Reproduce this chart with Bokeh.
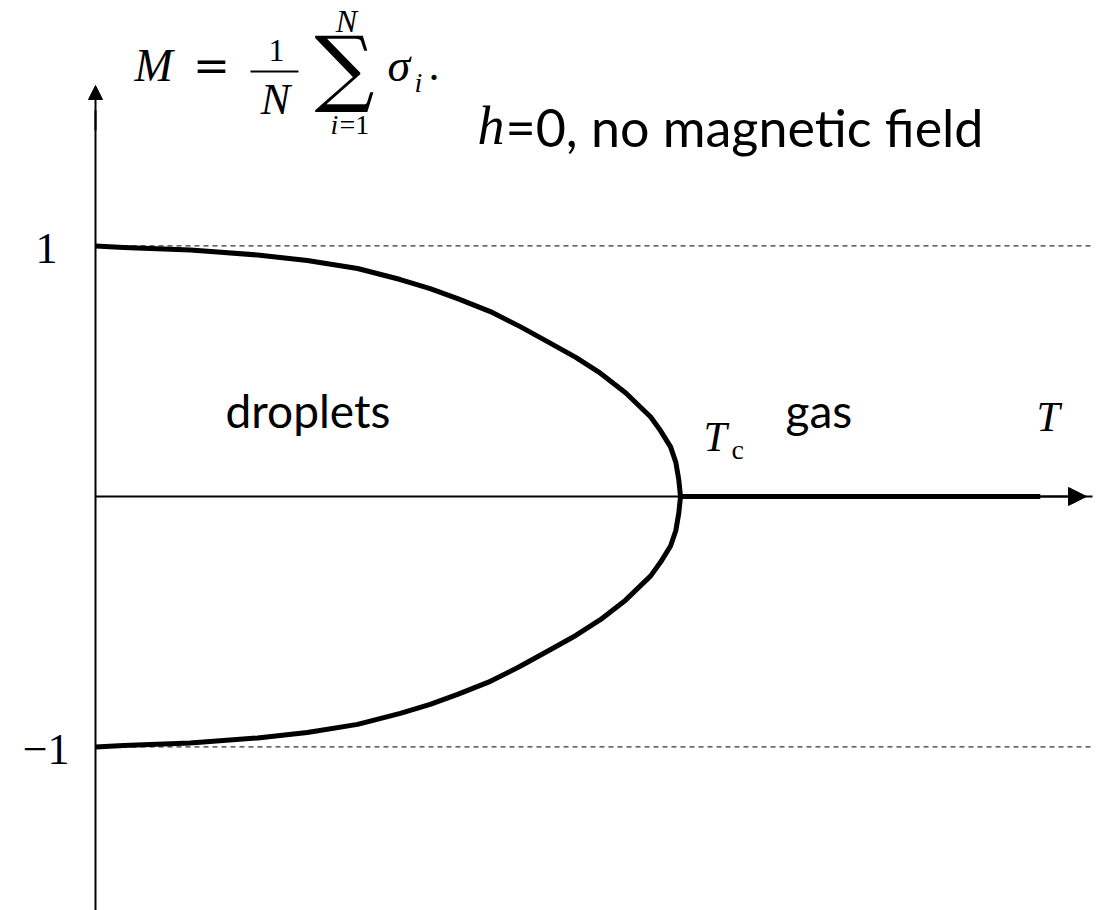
from bokeh.plotting import figure
from bokeh.models import Range1d, Arrow, NormalHead
from bokeh.core.properties import value
from bokeh.embed import file_html
from bokeh.resources import INLINE

# Magnetisation M(T) of the Ising model at h = 0, T in units of Tc
T_upper = [0.0, 0.048, 0.162, 0.277, 0.362, 0.448, 0.521, 0.572, 0.619, 0.675,
           0.726, 0.778, 0.821, 0.863, 0.906, 0.949, 0.966, 0.983, 0.992,
           0.997, 1.0]
M_upper = [1.0, 0.994, 0.984, 0.964, 0.942, 0.910, 0.866, 0.830, 0.790, 0.738,
           0.678, 0.611, 0.555, 0.492, 0.414, 0.317, 0.262, 0.198, 0.136,
           0.067, 0.0]
T_lower = [0.0, 0.048, 0.162, 0.277, 0.362, 0.448, 0.521, 0.572, 0.619, 0.675,
           0.726, 0.778, 0.821, 0.863, 0.906, 0.949, 0.966, 0.983, 0.992,
           0.997, 1.0]
M_lower = [-1.0, -0.994, -0.984, -0.964, -0.942, -0.910, -0.866, -0.830, -0.790,
           -0.738, -0.678, -0.611, -0.555, -0.492, -0.414, -0.317, -0.262,
           -0.198, -0.136, -0.067, 0.0]
T_gas = [1.0, 1.615]
M_gas = [0.0, 0.0]
tick_values = [1, -1]
tick_labels = ["1", "\u22121"]

W, H = 1100, 910
X0, X1 = -0.1624, 1.7179
Y0, Y1 = -1.653, 1.980


def px(x):
    return X0 + x * (X1 - X0) / W


def py(y):
    return Y1 - y * (Y1 - Y0) / H


p = figure(width=W, height=H, x_range=Range1d(X0, X1), y_range=Range1d(Y0, Y1),
           output_backend="svg", toolbar_location=None, min_border=0)
p.axis.visible = False
p.grid.visible = False
p.outline_line_color = None
p.background_fill_color = "white"

SERIF = "Liberation Serif"
SANS = "Lato"


def label(x, y, txt, size, font=SERIF, style="normal", align="left"):
    """Place text with its baseline at screen pixel (x, y)."""
    p.text([px(x)], [py(y - 0.4 * size)], text=[txt], text_font=value(font),
           text_font_style=style, text_font_size=f"{size}px",
           text_align=align, text_baseline="alphabetic", text_color="black")


# dashed reference levels M = +1 and M = -1
for m in tick_values:
    p.line([0, px(1090)], [m, m], line_color="#333333", line_width=1.3,
           line_dash="5 4")

# axes with arrow heads
p.line([0, px(1092)], [0, 0], line_color="black", line_width=2)
p.add_layout(Arrow(x_start=px(1040), y_start=0, x_end=px(1086), y_end=0,
                   line_width=2, line_color="black",
                   end=NormalHead(size=18, fill_color="black", line_color="black")))
p.line([0, 0], [py(912), py(110)], line_color="black", line_width=2)
p.add_layout(Arrow(x_start=0, y_start=py(130), x_end=0, y_end=py(85),
                   line_width=2, line_color="black",
                   end=NormalHead(size=14, fill_color="black", line_color="black")))

# coexistence curve and the M = 0 branch above Tc
for tx, my in ((T_upper, M_upper), (T_lower, M_lower), (T_gas, M_gas)):
    p.line(tx, my, line_color="black", line_width=5, line_join="round")

# tick labels on the M axis
label(46, 266, tick_labels[0], 44, align="center")
label(69, 767, tick_labels[1], 44, align="right")

# axis names
label(1036, 433, "T", 42, style="italic")
label(703, 453, "T", 42, style="italic")
label(731, 460, "c", 28)

# phase labels
label(225, 428, "droplets", 46, font=SANS)
label(785, 428, "gas", 46, font=SANS)

# h = 0 caption
label(477, 147, "h", 54, style="italic")
label(505, 147, "=0, no magnetic field", 52, font=SANS)

# definition M = (1/N) sum sigma_i
label(134, 83, "M", 46, style="italic")
label(211, 83, "=", 44, font="DejaVu Serif", align="center")
label(276, 63, "1", 32, align="center")
p.line([px(250), px(298)], [py(71), py(71)], line_color="black", line_width=2)
label(275, 117, "N", 44, style="italic", align="center")
label(344, 100, "\u2211", 84, font="DejaVu Serif", align="center")
label(346, 33, "N", 32, style="italic", align="center")
label(330, 135, "i", 28, style="italic")
label(339, 135, "=1", 28)
label(387, 83, "\u03c3", 46, style="italic")
label(414, 93, "i", 28, style="italic")
label(428, 83, ".", 44)

open("out.html", "w").write(file_html(p, INLINE))
